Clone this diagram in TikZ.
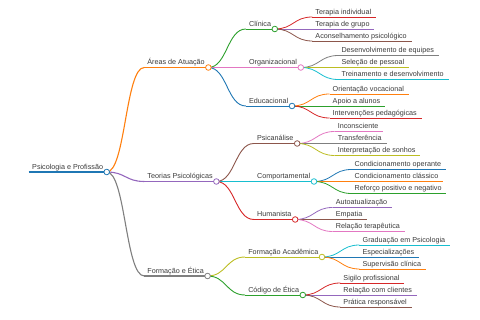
\documentclass[tikz,border=0pt]{standalone}
\usepackage{fontspec}
\setmainfont{Liberation Sans}
\usetikzlibrary{calc}
\definecolor{cBlue}{HTML}{1F77B4}
\definecolor{cOrange}{HTML}{FF7F0E}
\definecolor{cGreen}{HTML}{2CA02C}
\definecolor{cRed}{HTML}{D62728}
\definecolor{cPurple}{HTML}{9467BD}
\definecolor{cBrown}{HTML}{8C564B}
\definecolor{cPink}{HTML}{E377C2}
\definecolor{cGray}{HTML}{7F7F7F}
\definecolor{cOlive}{HTML}{BCBD22}
\definecolor{cCyan}{HTML}{17BECF}
\definecolor{txt}{HTML}{3A3A3A}
\tikzset{
  lbl/.style={inner sep=0pt, anchor=base west, text=txt, font=\fontsize{7.2}{8}\selectfont},
  dot/.style={fill=white, line width=0.8pt},
  w0/.style={line width=1.6pt},
  w1/.style={line width=1.1pt},
  w2/.style={line width=0.9pt},
  w3/.style={line width=0.8pt}
}
\def\mmpad{3.5pt}
% #1 name, #2 parent, #3 y, #4 colour, #5 width style, #6 text
\newcommand{\mmnode}[6]{%
  \coordinate (#1-t) at ([xshift=37.5pt]#2-e);
  \coordinate (#1-s) at (#1-t |- 0,#3);
  \node[lbl] (#1) at ([shift={(3pt,2.8pt)}]#1-s) {#6};
  \coordinate (#1-e) at ($(#1.base east |- #1-s)+(\mmpad,0pt)$);
  \draw[#4,#5] (#1-s) -- (#1-e);
  \draw[#4,#5] let \p1=(#2-e), \p2=(#1-s) in
    (\p1) .. controls ({0.5*\x1+0.5*\x2},\y1) and ({0.5*\x1+0.5*\x2},\y2) .. (\p2);
}
\newcommand{\mmdot}[2]{\draw[#2,dot] (#1-e) circle (2.8pt);}
\begin{document}
\begin{tikzpicture}[x=1pt,y=-1pt]
\useasboundingbox (0,0) rectangle (480,320);
% root
\coordinate (R-s) at (28.5,172);
\node[lbl] (R) at ([shift={(3.5pt,2.8pt)}]R-s) {Psicologia e Profissão};
\coordinate (R-e) at ($(R.base east |- R-s)+(3.5pt,0pt)$);
\draw[cBlue,w0] (R-s) -- (R-e);
% level 1
\mmnode{A}{R}{67.5}{cOrange}{w1}{Áreas de Atuação}
\mmnode{T}{R}{181.5}{cPurple}{w1}{Teorias Psicológicas}
\mmnode{F}{R}{276}{cGray}{w1}{Formação e Ética}
% level 2
\mmnode{A1}{A}{29}{cGreen}{w2}{Clínica}
\mmnode{A2}{A}{67.5}{cPink}{w2}{Organizacional}
\mmnode{A3}{A}{106}{cBlue}{w2}{Educacional}
\mmnode{T1}{T}{143.5}{cBrown}{w2}{Psicanálise}
\mmnode{T2}{T}{181.5}{cCyan}{w2}{Comportamental}
\mmnode{T3}{T}{219.5}{cRed}{w2}{Humanista}
\mmnode{F1}{F}{257}{cOlive}{w2}{Formação Acadêmica}
\mmnode{F2}{F}{295}{cGreen}{w2}{Código de Ética}
% leaves
\def\mmpad{4.7pt}
\mmnode{A11}{A1}{17}{cRed}{w3}{Terapia individual}
\mmnode{A12}{A1}{29}{cPurple}{w3}{Terapia de grupo}
\mmnode{A13}{A1}{41}{cBrown}{w3}{Aconselhamento psicológico}
\mmnode{A21}{A2}{55.5}{cGray}{w3}{Desenvolvimento de equipes}
\mmnode{A22}{A2}{67.5}{cOlive}{w3}{Seleção de pessoal}
\mmnode{A23}{A2}{79.5}{cCyan}{w3}{Treinamento e desenvolvimento}
\mmnode{A31}{A3}{94}{cOrange}{w3}{Orientação vocacional}
\mmnode{A32}{A3}{106}{cGreen}{w3}{Apoio a alunos}
\mmnode{A33}{A3}{118}{cRed}{w3}{Intervenções pedagógicas}
\mmnode{T11}{T1}{131.5}{cPink}{w3}{Inconsciente}
\mmnode{T12}{T1}{143.5}{cGray}{w3}{Transferência}
\mmnode{T13}{T1}{155.5}{cOlive}{w3}{Interpretação de sonhos}
\mmnode{T21}{T2}{169.5}{cBlue}{w3}{Condicionamento operante}
\mmnode{T22}{T2}{181.5}{cOrange}{w3}{Condicionamento clássico}
\mmnode{T23}{T2}{193.5}{cGreen}{w3}{Reforço positivo e negativo}
\mmnode{T31}{T3}{207.5}{cPurple}{w3}{Autoatualização}
\mmnode{T32}{T3}{219.5}{cBrown}{w3}{Empatia}
\mmnode{T33}{T3}{231.5}{cPink}{w3}{Relação terapêutica}
\mmnode{F11}{F1}{245}{cCyan}{w3}{Graduação em Psicologia}
\mmnode{F12}{F1}{257}{cBlue}{w3}{Especializações}
\mmnode{F13}{F1}{269}{cOrange}{w3}{Supervisão clínica}
\mmnode{F21}{F2}{283}{cRed}{w3}{Sigilo profissional}
\mmnode{F22}{F2}{295}{cPurple}{w3}{Relação com clientes}
\mmnode{F23}{F2}{307}{cBrown}{w3}{Prática responsável}
% circles
\mmdot{R}{cBlue}
\mmdot{A}{cOrange}
\mmdot{T}{cPurple}
\mmdot{F}{cGray}
\mmdot{A1}{cGreen}
\mmdot{A2}{cPink}
\mmdot{A3}{cBlue}
\mmdot{T1}{cBrown}
\mmdot{T2}{cCyan}
\mmdot{T3}{cRed}
\mmdot{F1}{cOlive}
\mmdot{F2}{cGreen}
\end{tikzpicture}
\end{document}
